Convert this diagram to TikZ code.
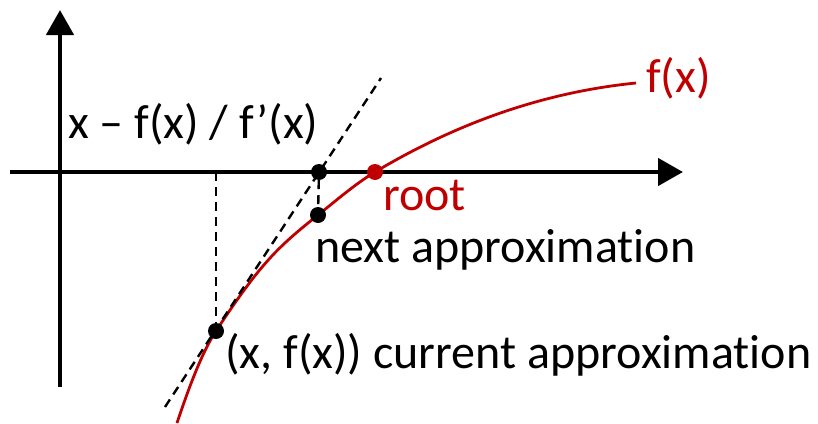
\documentclass[tikz,border=0pt]{standalone}
\usepackage{fontspec}
\setmainfont[Ligatures=NoCommon,RawFeature={-liga;-calt;-clig}]{Carlito}
\usetikzlibrary{arrows.meta}
\definecolor{fred}{RGB}{192,0,0}
\begin{document}
\begin{tikzpicture}[x=1pt,y=-1pt,
  axis/.style={line width=4.5pt,-{Triangle[length=25pt,width=27pt]}},
  curve/.style={fred,line width=2.8pt},
  guide/.style={line width=2.4pt,dash pattern=on 9pt off 6pt},
  dot/.style={circle,fill=black,inner sep=0pt,minimum size=16pt},
  rdot/.style={circle,fill=fred,inner sep=0pt,minimum size=16pt},
  lbl/.style={anchor=base west,inner sep=0pt,font=\fontsize{48}{50}\selectfont}]
\useasboundingbox (0,0) rectangle (818,423);
% axes
\coordinate (yb) at (60,387);
\coordinate (yt) at (60,10);
\coordinate (xl) at (10,172);
\coordinate (xr) at (683,172);
\draw[axis] (yb) -- (yt);
\draw[axis] (xl) -- (xr);
% curve
\coordinate (c0) at (177,423);
\coordinate (c1) at (216,331);
\coordinate (c2) at (318,215);
\coordinate (c3) at (375,172);
\coordinate (c4) at (636,83);
\draw[curve] (c0) .. controls (190,384) and (203,350.5) .. (c1)
  .. controls (261,262.5) and (278,247) .. (c2)
  .. controls (337,199.8) and (356,183.4) .. (c3)
  .. controls (462,120) and (549,91.7) .. (c4);
% tangent and guides
\coordinate (cx) at (216,172);
\coordinate (t1) at (165,407);
\coordinate (t2) at (381,78);
\draw[guide] (t1) -- (t2);
\node[dot] (cur) at (c1) {};
\node[dot] (nx) at (319,172) {};
\node[dot] (nf) at (c2) {};
\node[rdot] (root) at (c3) {};
\draw[guide] (cx) -- (cur);
\draw[guide] (nx) -- (nf);
% labels
\node[lbl] (l1) at (68,138) {x – f(x) / f’(x)};
\node[lbl,text=fred] (l2) at (383,210) {root};
\node[lbl] (l3) at (315,262) {next approximat\kern0pt ion};
\node[lbl] (l4) at (225,368) {(x, f(x)) current approximat\kern0pt ion};
\node[lbl,text=fred] (l5) at (646,92) {f(x)};
\end{tikzpicture}
\end{document}
